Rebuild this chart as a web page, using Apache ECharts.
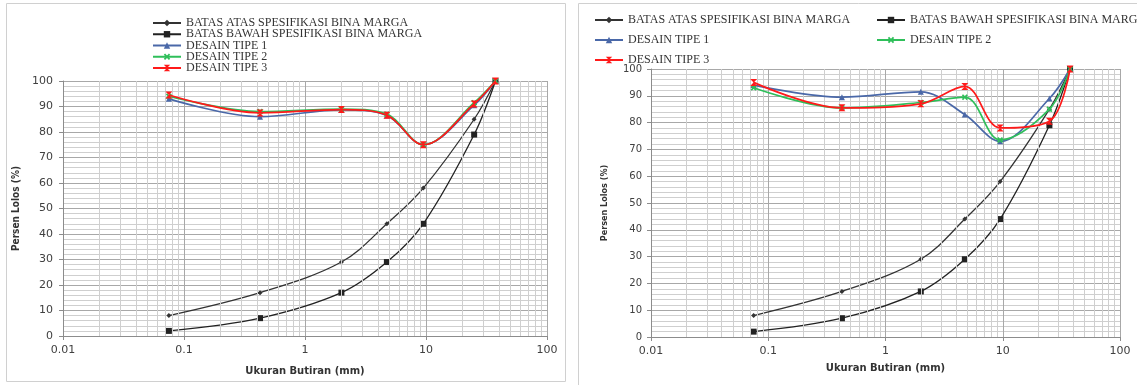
<!DOCTYPE html>
<html>
<head>
<meta charset="utf-8">
<script src="https://cdn.jsdelivr.net/npm/echarts@6/dist/echarts.min.js"></script>
<style>
  html,body{margin:0;padding:0;background:#fff;}
  #wrap{position:relative;width:1137px;height:385px;overflow:hidden;background:#fff;}
  #c1{position:absolute;left:0;top:0;width:570px;height:385px;}
  #c2{position:absolute;left:570px;top:0;width:567px;height:385px;}
</style>
</head>
<body>
<div id="wrap"><div id="c1"></div><div id="c2"></div></div>
<script>
// ---- data ----
const sieveSizes = [0.075, 0.425, 2.0, 4.75, 9.5, 25, 37.5];
const batasAtas  = [8, 17, 29, 44, 58, 85, 100];
const batasBawah = [2, 7, 17, 29, 44, 79, 100];
// left chart
const tipe1Left = [93, 86, 88.7, 86.5, 75, 90.5, 100];
const tipe2Left = [94, 88, 89, 87, 75, 91.5, 100];
const tipe3Left = [94.5, 87.5, 88.8, 86.6, 75, 91, 100];
// right chart
const tipe1Right = [94, 89.5, 91.5, 83, 73, 89, 100];
const tipe2Right = [93, 85.5, 87.5, 89.5, 73.5, 85, 100];
const tipe3Right = [95, 85.5, 87, 93.5, 78, 80.5, 100];
const xTickLabels = ['0.01', '0.1', '1', '10', '100'];
const seriesNames = ['BATAS ATAS SPESIFIKASI BINA MARGA', 'BATAS BAWAH SPESIFIKASI BINA MARGA', 'DESAIN TIPE 1', 'DESAIN TIPE 2', 'DESAIN TIPE 3'];
const xTitle = 'Ukuran Butiran (mm)';
const yTitle = 'Persen Lolos (%)';

// ---- styles ----
const colors = ['#333333', '#222222', '#4a68a8', '#2fbf5a', '#ff1a1a'];
const symbols = [
  'diamond',
  'rect',
  'triangle',
  'path://M2,0L5,3L8,0L10,2L7,5L10,8L8,10L5,7L2,10L0,8L3,5L0,2Z',
  'path://M0,0L10,0L0,10L10,10Z'
];
const symbolSizes = [5, 6, 6, 6, 7];
const lineWidths = [1.3, 1.3, 1.7, 1.7, 1.7];

const minorX = [];
[0.01, 0.1, 1, 10].forEach(d => { for (let m = 2; m <= 9; m++) minorX.push(+(d * m).toPrecision(6)); });

function pairs(ys) { return sieveSizes.map((x, i) => [x, ys[i]]); }

function build(cfg) {
  const dataSets = [batasAtas, batasBawah].concat(cfg.tipes);
  const series = [{
    type: 'line', data: [], silent: true, z: 1, showSymbol: false,
    markLine: {
      silent: true, symbol: ['none', 'none'], label: { show: false }, animation: false,
      lineStyle: { color: '#cfcfcf', width: 1, type: 'solid' },
      emphasis: { disabled: true },
      data: minorX.map(v => ({ xAxis: v }))
    }
  }];
  dataSets.forEach((d, i) => {
    series.push({
      name: seriesNames[i], type: 'line', data: pairs(d), smooth: 0.35,
      symbol: symbols[i], symbolSize: symbolSizes[i], z: 3 + i,
      lineStyle: { color: colors[i], width: lineWidths[i] },
      itemStyle: { color: colors[i] },
      animation: false
    });
  });
  return {
    animation: false,
    graphic: [{
      type: 'rect', silent: true, z: -10,
      shape: cfg.frame,
      style: { fill: 'none', stroke: '#d0d0d0', lineWidth: 1 }
    }],
    legend: cfg.legends.map(L => ({
      orient: 'vertical', left: L.left, top: L.top, itemGap: L.gap, padding: 0,
      itemWidth: 28, itemHeight: 8, selectedMode: false,
      data: L.names,
      textStyle: { fontFamily: 'Liberation Serif', fontSize: 12, color: '#333', padding: [0, 0, 0, 0] }
    })),
    grid: cfg.grid,
    xAxis: {
      type: 'log', logBase: 10, min: 0.01, max: 100,
      name: xTitle, nameLocation: 'middle', nameGap: cfg.xNameGap,
      nameTextStyle: { fontFamily: 'DejaVu Sans', fontWeight: 'bold', fontSize: 10, color: '#333' },
      axisLine: { show: true, lineStyle: { color: '#8c8c8c' } },
      axisTick: { show: true, length: 4, lineStyle: { color: '#8c8c8c' } },
      axisLabel: {
        margin: 9, fontFamily: 'DejaVu Sans', fontSize: 11, color: '#404040',
        formatter: v => xTickLabels[Math.round(Math.log10(v)) + 2]
      },
      splitLine: { show: true, lineStyle: { color: '#a8a8a8', width: 1 } },
      minorTick: { show: false }, minorSplitLine: { show: false }
    },
    yAxis: {
      type: 'value', min: 0, max: 100, interval: 10,
      name: yTitle, nameLocation: 'middle', nameGap: cfg.yNameGap, nameRotate: 90,
      nameTextStyle: { fontFamily: 'DejaVu Sans Condensed', fontWeight: 'bold', fontSize: cfg.yNameSize, color: '#333' },
      axisLine: { show: true, lineStyle: { color: '#8c8c8c' } },
      axisTick: { show: true, length: 4, lineStyle: { color: '#8c8c8c' } },
      axisLabel: { margin: cfg.yLabelMargin, fontFamily: 'DejaVu Sans', fontSize: cfg.yLabelSize, color: '#404040' },
      splitLine: { show: true, lineStyle: { color: '#a8a8a8', width: 1 } },
      minorTick: { show: false, splitNumber: 5 },
      minorSplitLine: { show: true, lineStyle: { color: '#cfcfcf', width: 1 } }
    },
    series: series
  };
}

const chart1 = echarts.init(document.getElementById('c1'), null, { renderer: 'canvas' });
chart1.setOption(build({
  tipes: [tipe1Left, tipe2Left, tipe3Left],
  frame: { x: 6.5, y: 3.5, width: 559, height: 378 },
  grid: { left: 63, right: 23, top: 81, bottom: 49 },
  legends: [{ left: 152, top: 17, gap: -0.75, names: seriesNames }],
  xNameGap: 30, yNameGap: 40, yNameSize: 10, yLabelMargin: 10, yLabelSize: 11
}));

const chart2 = echarts.init(document.getElementById('c2'), null, { renderer: 'canvas' });
chart2.setOption(build({
  tipes: [tipe1Right, tipe2Right, tipe3Right],
  frame: { x: 8.5, y: 3.5, width: 600, height: 400 },
  grid: { left: 81, right: 17, top: 69, bottom: 48 },
  legends: [
    { left: 24, top: 14, gap: 8, names: [seriesNames[0], seriesNames[2], seriesNames[4]] },
    { left: 306, top: 14, gap: 8, names: [seriesNames[1], seriesNames[3]] }
  ],
  xNameGap: 26, yNameGap: 42, yNameSize: 9, yLabelMargin: 9, yLabelSize: 10
}));
</script>
</body>
</html>
